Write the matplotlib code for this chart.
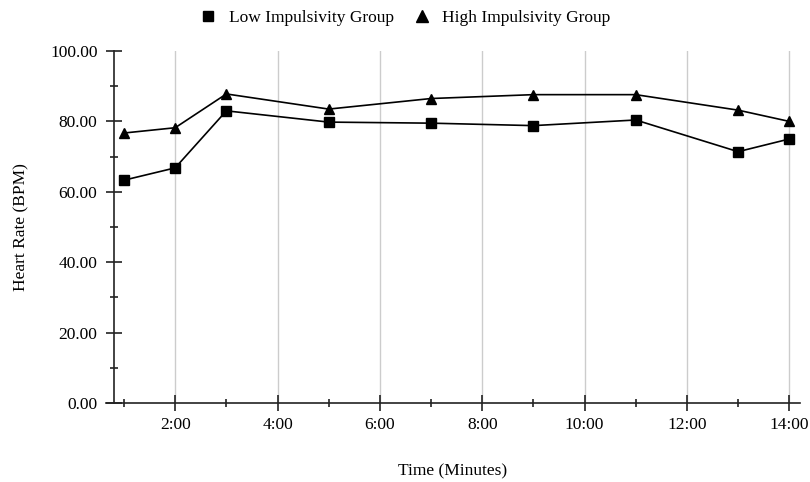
import matplotlib
matplotlib.use("Agg")
import matplotlib.pyplot as plt
from matplotlib.lines import Line2D

plt.rcParams['font.family'] = ['Liberation Serif', 'DejaVu Serif']

minutes = [1, 2, 3, 5, 7, 9, 11, 13, 14]
low_group = [63.3, 66.8, 83.0, 79.8, 79.5, 78.8, 80.4, 71.4, 75.0]
high_group = [76.7, 78.2, 87.8, 83.5, 86.5, 87.6, 87.6, 83.2, 80.0]
x_ticks = [2, 4, 6, 8, 10, 12, 14]
x_labels = ["2:00", "4:00", "6:00", "8:00", "10:00", "12:00", "14:00"]
y_ticks = [0, 20, 40, 60, 80, 100]

fig = plt.figure(figsize=(8.1, 4.82), dpi=100)
ax = fig.add_axes([106 / 810, 1 - 403 / 482, 694 / 810, 352 / 482])

ax.plot(minutes, low_group, color="black", lw=1.2, marker="s", ms=6.5,
        clip_on=False, zorder=3)
ax.plot(minutes, high_group, color="black", lw=1.2, marker="^", ms=7,
        clip_on=False, zorder=3)

ax.set_xlim(0.648, 14.21)
ax.set_ylim(0, 100)
ax.spines["left"].set_position(("data", 0.8))
ax.spines["top"].set_visible(False)
ax.spines["right"].set_visible(False)
for s in ["left", "bottom"]:
    ax.spines[s].set_color("#222222")
    ax.spines[s].set_linewidth(1.2)

ax.set_xticks(x_ticks)
ax.set_xticklabels(x_labels)
ax.set_xticks([1, 3, 5, 7, 9, 11, 13], minor=True)
ax.set_yticks(y_ticks)
ax.set_yticklabels([f"{v:.2f}" for v in y_ticks])
ax.set_yticks([10, 30, 50, 70, 90], minor=True)

ax.tick_params(axis="both", which="major", direction="inout", length=11.5,
               width=1.2, color="#222222", labelsize=12.5)
ax.tick_params(axis="both", which="minor", direction="inout", length=5.5,
               width=1.2, color="#222222")
ax.tick_params(axis="x", which="major", pad=4)
ax.tick_params(axis="y", which="major", pad=6)

ax.grid(axis="x", which="major", color="#cccccc", lw=1)
ax.set_axisbelow(True)

ax.set_xlabel("Time (Minutes)", fontsize=12.5, labelpad=22)
ax.set_ylabel("Heart Rate (BPM)", fontsize=12.5, labelpad=15)

handles = [
    Line2D([], [], color="black", marker="s", ls="none", ms=7.5),
    Line2D([], [], color="black", marker="^", ls="none", ms=8),
]
fig.legend(handles, ["Low Impulsivity Group", "High Impulsivity Group"],
           loc="center", bbox_to_anchor=(0.5, 0.962), ncol=2, frameon=False,
           fontsize=12.5, handletextpad=0.7, columnspacing=1.1, handlelength=1)

fig.savefig("out.png", dpi=100)
